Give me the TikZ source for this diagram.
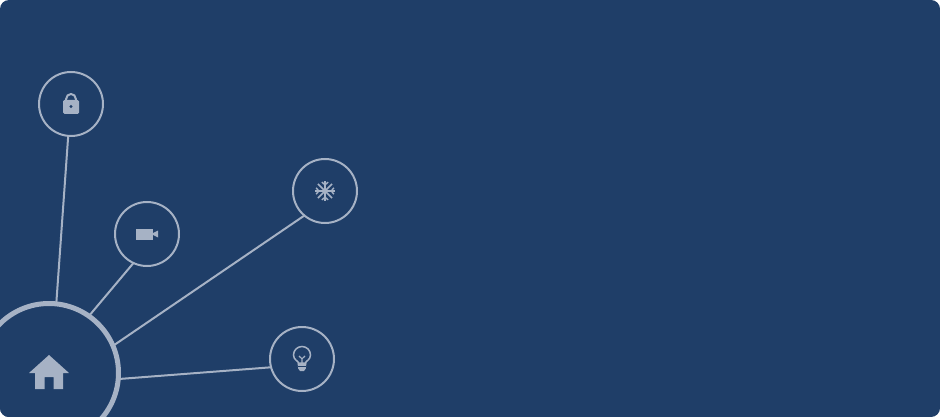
\documentclass[tikz,border=0pt]{standalone}
\definecolor{navy}{HTML}{1F3E68}
\definecolor{ink}{HTML}{A6B2C5}
\tikzset{
  sat/.style={circle,draw=ink,line width=2pt,fill=navy,minimum size=64pt,inner sep=0pt,outer sep=0pt},
  hub/.style={circle,draw=ink,line width=5pt,fill=navy,minimum size=139pt,inner sep=0pt,outer sep=0pt},
  link/.style={draw=ink,line width=2pt},
  glyph/.style={fill=ink,draw=none},
  gline/.style={draw=ink,line width=1.5pt,fill=none}
}
\begin{document}
\begin{tikzpicture}[x=1pt,y=-1pt]
\useasboundingbox (0,0) rectangle (940,417);
\begin{scope}
\clip[rounded corners=9pt] (0,0) rectangle (940,417);
\fill[navy] (0,0) rectangle (940,417);
\node[sat] (lock) at (71,104) {};
\node[sat] (cam) at (147,234) {};
\node[sat] (snow) at (325,191) {};
\node[sat] (bulb) at (302,359) {};
\node[hub] (home) at (49,373) {};
\draw[link] (lock.-95.2) -- (home.84.4);
\draw[link] (cam.-115.5) -- (home.55.5);
\draw[link] (snow.-130) -- (home.23.7);
\draw[link] (bulb.195.2) -- (home.-5.2);
\end{scope}
% lock
\fill[glyph,rounded corners=1.5pt] (63,100) rectangle (79,114);
\draw[draw=ink,line width=2pt] (66.2,101) -- (66.2,98.8) arc[start angle=180,end angle=360,radius=4.8] -- (75.8,101);
\fill[navy] (71,106.5) circle[radius=1.7];
% camera
\fill[glyph] (136,228.5) rectangle (152.5,239.5);
\fill[glyph] (153,233) -- (158,230.5) -- (158,237.5) -- (153,235) -- cycle;
% snow
\begin{scope}[shift={(325,191)}]
\foreach \a in {0,45,...,315}{
  \draw[draw=ink,line width=1.7pt,rotate=\a] (0,0) -- (10,0);
}
\foreach \a in {0,90,180,270}{
  \draw[draw=ink,line width=1.3pt,rotate=\a] (9,-3.2) -- (6,0) -- (9,3.2);
}
\end{scope}
% bulb
\draw[gline] (298.5,363) .. controls (298.5,361) and (293.5,360) .. (293.5,355) arc[start angle=180,end angle=360,radius=8.5] .. controls (310.5,360) and (305.5,361) .. (305.5,363) -- cycle;
\draw[draw=ink,line width=1.2pt] (302,363) -- (302,358.5) (299,356) -- (302,358.8) -- (305,356);
\fill[glyph] (297.5,363) -- (306.5,363) -- (305.8,368.5) -- (304,371) -- (300,371) -- (298.2,368.5) -- cycle;
\fill[navy] (298,365.6) rectangle (306,366.6);
% house
\fill[glyph] (29,373) -- (49,355) -- (69,373) -- (63,373) -- (63,389) -- (53.5,389) -- (53.5,377) -- (44.5,377) -- (44.5,389) -- (35,389) -- (35,373) -- cycle;
\end{tikzpicture}
\end{document}
